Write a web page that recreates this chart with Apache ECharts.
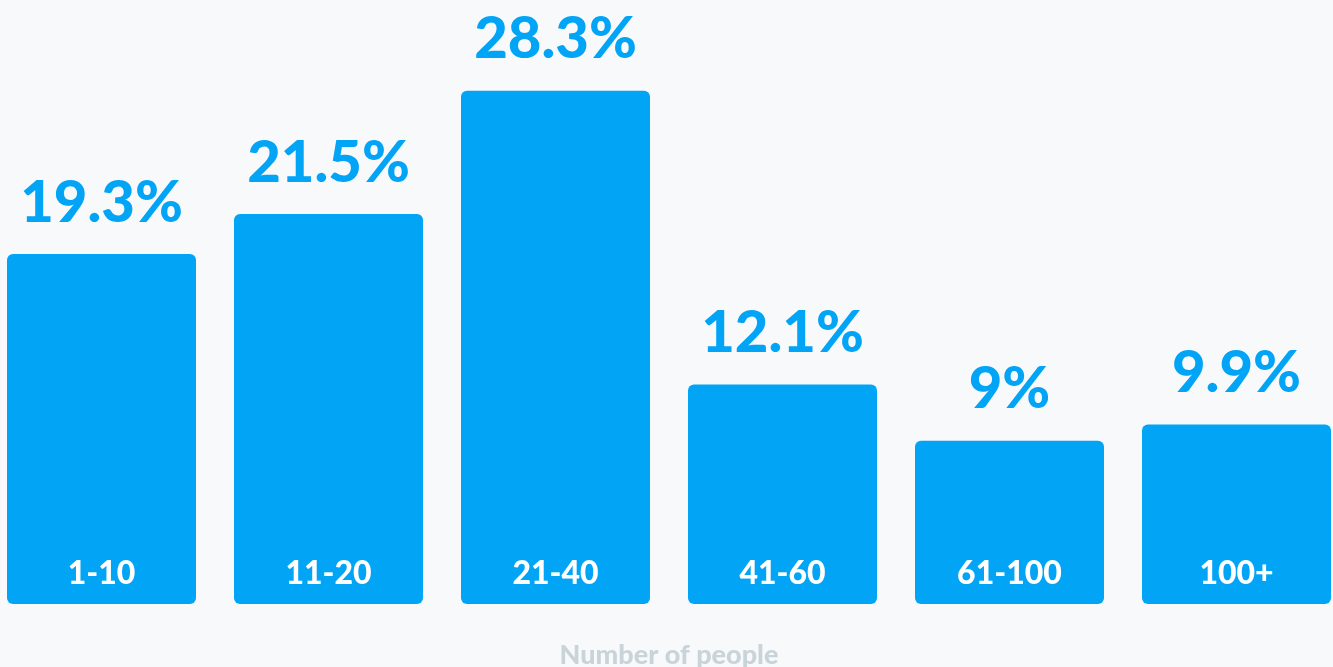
<!DOCTYPE html>
<html>
<head>
<meta charset="utf-8">
<script src="https://cdn.jsdelivr.net/npm/echarts@6/dist/echarts.min.js"></script>
<style>
html,body{margin:0;padding:0;background:#f8f9fb;}
#chart{width:1333px;height:667px;}
</style>
</head>
<body>
<div id="chart"></div>
<script>
const categories = ['1-10', '11-20', '21-40', '41-60', '61-100', '100+'];
const values = [19.3, 21.5, 28.3, 12.1, 9, 9.9];
const valueLabels = ['19.3%', '21.5%', '28.3%', '12.1%', '9%', '9.9%'];
const axisTitle = 'Number of people';

const chart = echarts.init(document.getElementById('chart'));
chart.setOption({
  backgroundColor: '#f8f9fb',
  animation: false,
  grid: {left: -12, right: -17, top: 0, bottom: 63, containLabel: false, outerBoundsMode: 'none'},
  xAxis: {
    type: 'category',
    data: categories,
    z: 10,
    axisLine: {show: false},
    axisTick: {show: false},
    axisLabel: {
      inside: true,
      margin: 14,
      color: '#ffffff',
      fontFamily: 'Lato',
      fontWeight: 900,
      fontSize: 32
    },
    name: axisTitle,
    nameLocation: 'middle',
    nameGap: 38,
    nameTextStyle: {
      color: '#c9d4da',
      fontFamily: 'Lato',
      fontWeight: 900,
      fontSize: 27
    }
  },
  yAxis: {
    type: 'value',
    min: 0,
    max: 33.3,
    show: false,
    splitLine: {show: false}
  },
  series: [{
    type: 'bar',
    data: values,
    barWidth: 189,
    itemStyle: {color: '#02a4f6', borderRadius: 6},
    label: {
      show: true,
      position: 'top',
      distance: 22,
      formatter: p => valueLabels[p.dataIndex],
      color: '#02a4f6',
      fontFamily: 'Lato',
      fontWeight: 900,
      fontSize: 58
    }
  }]
});
</script>
</body>
</html>
